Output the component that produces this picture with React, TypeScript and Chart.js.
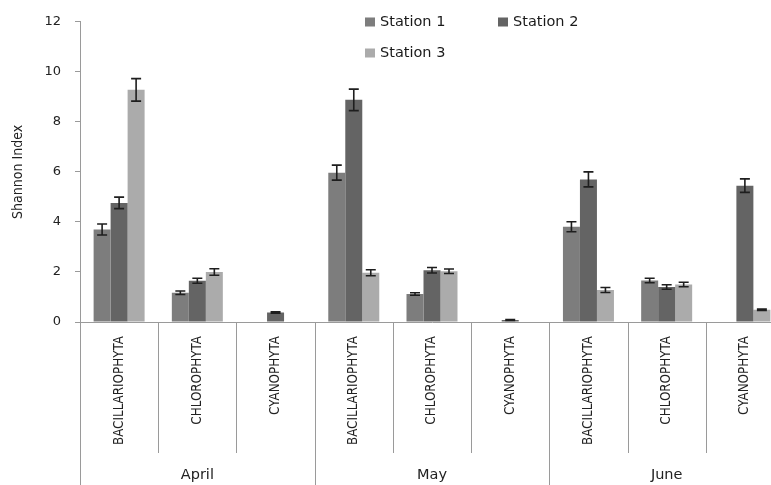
import React, { useEffect, useRef } from "react";
import { Chart, registerables } from "chart.js";

Chart.register(...registerables);

const months = ["April", "May", "June"];
const phyla = ["BACILLARIOPHYTA", "CHLOROPHYTA", "CYANOPHYTA"];
const seriesNames = ["Station 1", "Station 2", "Station 3"];
const seriesColors = ["#7d7d7d", "#646464", "#ababab"];

const station1 = [3.7, 1.17, null, 5.97, 1.12, null, 3.81, 1.66, null];
const station1Err = [0.22, 0.07, null, 0.3, 0.05, null, 0.2, 0.09, null];
const station2 = [4.76, 1.65, 0.38, 8.88, 2.07, 0.08, 5.7, 1.4, 5.45];
const station2Err = [0.23, 0.1, 0.03, 0.43, 0.11, 0.02, 0.3, 0.09, 0.27];
const station3 = [9.28, 2.0, null, 1.97, 2.03, null, 1.28, 1.5, 0.49];
const station3Err = [0.45, 0.13, null, 0.12, 0.09, null, 0.1, 0.09, 0.03];

const yTicks = [0, 2, 4, 6, 8, 10, 12];

const NARROW = "'Liberation Sans Narrow', 'DejaVu Sans Condensed', 'Liberation Sans', sans-serif";
const WIDE = "'DejaVu Sans', Verdana, sans-serif";

const categories: string[] = [];
months.forEach(() => phyla.forEach((p) => categories.push(p)));

const values = [station1, station2, station3];
const errors = [station1Err, station2Err, station3Err];

const errorBarPlugin = {
  id: "errorBars",
  afterDatasetsDraw(chart: any) {
    const ctx = chart.ctx;
    const y = chart.scales.y;
    ctx.save();
    ctx.strokeStyle = "#1e1e1e";
    ctx.lineWidth = 1.6;
    chart.data.datasets.forEach((ds: any, i: number) => {
      const meta = chart.getDatasetMeta(i);
      meta.data.forEach((el: any, j: number) => {
        const v = values[i][j];
        const e = errors[i][j];
        if (v == null || e == null) return;
        const x = el.x;
        const t = y.getPixelForValue(v + e);
        const b = y.getPixelForValue(v - e);
        ctx.beginPath();
        ctx.moveTo(x, t);
        ctx.lineTo(x, b);
        ctx.moveTo(x - 5, t);
        ctx.lineTo(x + 5, t);
        ctx.moveTo(x - 5, b);
        ctx.lineTo(x + 5, b);
        ctx.stroke();
      });
    });
    ctx.restore();
  },
};

const axisDecorPlugin = {
  id: "axisDecor",
  afterDraw(chart: any) {
    const ctx = chart.ctx;
    const area = chart.chartArea;
    const n = categories.length;
    const w = (area.right - area.left) / n;
    ctx.save();
    ctx.strokeStyle = "#9a9a9a";
    ctx.lineWidth = 1;
    for (let k = 0; k <= n; k++) {
      const x = Math.round(area.left + k * w) + 0.5;
      const bottom = k % phyla.length === 0 ? chart.height : area.bottom + 131;
      ctx.beginPath();
      ctx.moveTo(x, area.bottom);
      ctx.lineTo(x, bottom);
      ctx.stroke();
    }
    ctx.fillStyle = "#222";
    ctx.font = "14.5px " + WIDE;
    ctx.textAlign = "center";
    ctx.textBaseline = "middle";
    months.forEach((m, i) => {
      const cx = area.left + (i * phyla.length + phyla.length / 2) * w;
      ctx.fillText(m, cx, area.bottom + 153);
    });
    ctx.restore();
  },
};

const legendPlugin = {
  id: "customLegend",
  afterDraw(chart: any) {
    const ctx = chart.ctx;
    const pos = [
      [365, 22],
      [498, 22],
      [365, 53],
    ];
    ctx.save();
    ctx.font = "14.5px " + WIDE;
    ctx.textBaseline = "middle";
    ctx.textAlign = "left";
    seriesNames.forEach((name, i) => {
      const [x, y] = pos[i];
      ctx.fillStyle = seriesColors[i];
      ctx.fillRect(x, y - 4.5, 10, 9);
      ctx.fillStyle = "#1a1a1a";
      ctx.fillText(name, x + 15, y);
    });
    ctx.restore();
  },
};

export default function App() {
  const ref = useRef<HTMLCanvasElement>(null);
  useEffect(() => {
    if (!ref.current) return;
    const chart = new Chart(ref.current, {
      type: "bar",
      data: {
        labels: categories,
        datasets: seriesNames.map((name, i) => ({
          label: name,
          data: values[i],
          backgroundColor: seriesColors[i],
          borderWidth: 0,
          categoryPercentage: 0.652,
          barPercentage: 1,
        })),
      },
      options: {
        animation: false,
        responsive: false,
        layout: { padding: { top: 21, right: 16, left: 0, bottom: 0 } },
        plugins: {
          legend: { display: false },
          tooltip: { enabled: false },
        },
        scales: {
          x: {
            offset: true,
            grid: { display: false },
            border: { display: true, color: "#9a9a9a" },
            ticks: {
              autoSkip: false,
              minRotation: 90,
              maxRotation: 90,
              padding: 6,
              color: "#222",
              font: { family: NARROW, size: 13.3 },
            },
            afterFit(scale: any) {
              scale.height = 163;
            },
          },
          y: {
            min: 0,
            max: 12,
            afterBuildTicks(scale: any) {
              scale.ticks = yTicks.map((v) => ({ value: v }));
            },
            grid: { drawOnChartArea: false, drawTicks: true, tickLength: 5, color: "#9a9a9a" },
            border: { display: true, color: "#9a9a9a" },
            ticks: {
              padding: 14,
              color: "#222",
              font: { family: WIDE, size: 13 },
            },
            title: {
              display: true,
              text: "Shannon Index",
              color: "#222",
              font: { family: NARROW, size: 14 },
              padding: { top: 10, bottom: 0 },
            },
            afterFit(scale: any) {
              scale.width = 80;
            },
          },
        },
      },
      plugins: [errorBarPlugin, axisDecorPlugin, legendPlugin],
    });
    return () => chart.destroy();
  }, []);
  return (
    <div style={{ position: "absolute", left: 0, top: 0, width: 771, height: 485, overflow: "hidden", background: "#fff" }}>
      <canvas ref={ref} width={800} height={485} style={{ display: "block" }} />
    </div>
  );
}
